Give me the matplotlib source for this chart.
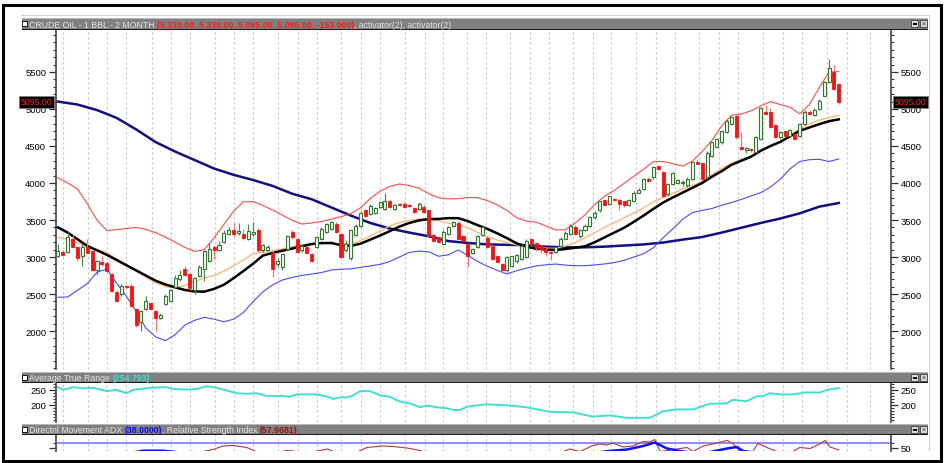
import matplotlib
matplotlib.use('Agg')
import matplotlib.pyplot as plt
from matplotlib.patches import Rectangle
from matplotlib.ticker import MultipleLocator, FixedLocator
import numpy as np

# ---------------- data ----------------
opens = [3020, 3070, 3070, 3250, 3130, 3010, 3130, 3080, 2830, 2930,
         2920, 2770, 2530, 2500, 2610, 2610, 2300, 2120, 2300, 2380,
         2270, 2180, 2370, 2410, 2590, 2700, 2840, 2770, 2550, 2740,
         2840, 2950, 3140, 3100, 3200, 3310, 3370, 3330, 3310, 3250,
         3310, 3370, 3090, 3100, 3060, 2900, 2870, 3110, 3340, 3240,
         3090, 3130, 3040, 3140, 3240, 3340, 3380, 3450, 3310, 3100,
         2980, 3300, 3420, 3630, 3580, 3600, 3680, 3650, 3760, 3650,
         3710, 3720, 3700, 3660, 3650, 3680, 3630, 3300, 3270, 3180,
         3310, 3420, 3460, 3290, 3180, 3060, 3140, 3300, 3260, 3150,
         3020, 2910, 2820, 2880, 2940, 2970, 3000, 3240, 3190, 3150,
         3110, 3070, 3070, 3150, 3250, 3310, 3410, 3280, 3360, 3420,
         3540, 3630, 3770, 3720, 3790, 3770, 3750, 3700, 3760, 3870,
         3920, 4060, 4080, 4230, 4150, 3850, 3990, 4000, 4000, 3970,
         4060, 4290, 4270, 4080, 4370, 4480, 4550, 4690, 4800, 4910,
         4490, 4440, 4460, 4420, 4590, 4960, 4960, 4780, 4620, 4700,
         4640, 4660, 4640, 4800, 4960, 4920, 5000, 5180, 5360, 5500,
         5333]
highs = [3170, 3090, 3340, 3300, 3140, 3180, 3250, 3090, 2960, 3010,
         2950, 2780, 2560, 2630, 2620, 2650, 2310, 2280, 2470, 2390,
         2280, 2250, 2500, 2570, 2760, 2820, 2880, 2790, 2730, 2890,
         3100, 3190, 3160, 3220, 3360, 3400, 3460, 3460, 3380, 3440,
         3470, 3390, 3180, 3160, 3080, 2980, 3060, 3300, 3360, 3250,
         3170, 3150, 3060, 3290, 3400, 3460, 3490, 3470, 3320, 3230,
         3370, 3440, 3620, 3650, 3710, 3680, 3760, 3860, 3770, 3720,
         3730, 3740, 3720, 3680, 3740, 3700, 3640, 3310, 3280, 3360,
         3420, 3490, 3480, 3300, 3190, 3120, 3300, 3420, 3280, 3170,
         3030, 2920, 3010, 3020, 3040, 3170, 3240, 3260, 3200, 3170,
         3130, 3090, 3150, 3270, 3350, 3440, 3430, 3380, 3440, 3550,
         3620, 3760, 3790, 3830, 3800, 3790, 3760, 3780, 3890, 3930,
         4070, 4080, 4230, 4240, 4160, 4000, 4150, 4060, 4040, 4080,
         4290, 4320, 4290, 4430, 4560, 4610, 4720, 4860, 4900, 4920,
         4690, 4490, 4470, 4630, 5020, 5050, 5010, 4800, 4700, 4710,
         4730, 4680, 4810, 4980, 4980, 5010, 5130, 5380, 5680, 5600,
         5339]
lows = [3000, 3020, 3050, 3120, 2950, 2880, 3050, 2810, 2760, 2880,
        2800, 2530, 2390, 2480, 2570, 2330, 2060, 2000, 2290, 2290,
        2000, 2160, 2350, 2400, 2580, 2680, 2740, 2560, 2500, 2730,
        2680, 2930, 2970, 3080, 3190, 3300, 3290, 3300, 3230, 3230,
        3290, 3070, 3070, 3080, 2730, 2860, 2830, 3090, 3250, 3060,
        3070, 3040, 2930, 3120, 3230, 3320, 3370, 3320, 2980, 3070,
        2960, 3280, 3400, 3540, 3570, 3580, 3660, 3630, 3660, 3630,
        3690, 3670, 3680, 3600, 3640, 3600, 3280, 3210, 3190, 3160,
        3300, 3410, 3240, 3210, 2870, 3040, 3120, 3280, 3120, 2960,
        2920, 2790, 2800, 2870, 2920, 2960, 2980, 3160, 3080, 3060,
        3020, 2960, 3050, 3140, 3240, 3300, 3300, 3260, 3350, 3410,
        3520, 3610, 3690, 3700, 3760, 3640, 3680, 3690, 3750, 3860,
        3900, 4020, 4060, 4180, 3810, 3830, 3970, 3980, 3960, 3950,
        4040, 4250, 4040, 4060, 4350, 4470, 4530, 4670, 4780, 4600,
        4450, 4400, 4420, 4400, 4580, 4920, 4740, 4610, 4600, 4630,
        4620, 4580, 4620, 4790, 4920, 4900, 4990, 5170, 5350, 5260,
        5065]
closes = [3085, 3030, 3270, 3130, 2980, 3140, 3060, 2820, 2940, 2900,
          2810, 2540, 2410, 2610, 2590, 2340, 2080, 2270, 2410, 2300,
          2180, 2210, 2480, 2550, 2720, 2760, 2760, 2580, 2720, 2860,
          3080, 3110, 3090, 3160, 3330, 3360, 3310, 3350, 3260, 3350,
          3340, 3090, 3160, 3140, 2840, 2950, 3040, 3290, 3270, 3070,
          3150, 3060, 2950, 3270, 3380, 3450, 3470, 3340, 3000, 3180,
          3360, 3420, 3590, 3560, 3690, 3660, 3740, 3760, 3680, 3700,
          3700, 3680, 3690, 3610, 3720, 3610, 3290, 3220, 3200, 3340,
          3410, 3470, 3250, 3220, 3020, 3110, 3280, 3400, 3140, 2970,
          2930, 2820, 3000, 3010, 3030, 3150, 3220, 3180, 3120, 3110,
          3070, 3055, 3130, 3250, 3330, 3420, 3310, 3360, 3420, 3540,
          3600, 3750, 3700, 3820, 3770, 3710, 3700, 3770, 3870, 3910,
          4050, 4030, 4210, 4190, 3830, 3990, 4140, 4040, 4020, 4060,
          4280, 4260, 4060, 4410, 4550, 4590, 4700, 4840, 4890, 4620,
          4460, 4470, 4440, 4620, 5010, 4930, 4760, 4620, 4690, 4640,
          4720, 4600, 4800, 4960, 4930, 4980, 5110, 5360, 5560, 5270,
          5095]

# overlay lines sampled every 2 bars (bar index 0,2,...,160)
band_idx = list(range(0, 161, 2))
ma_black = [3400, 3330, 3240, 3150, 3090, 3030, 2960, 2890, 2820, 2750,
            2680, 2630, 2590, 2555, 2535, 2532, 2570, 2625, 2715, 2810,
            2910, 3020, 3055, 3085, 3115, 3145, 3175, 3188, 3190, 3160,
            3150, 3180, 3235, 3290, 3350, 3412, 3460, 3495, 3512, 3515,
            3525, 3525, 3485, 3430, 3380, 3320, 3255, 3185, 3140, 3112,
            3100, 3095, 3108, 3125, 3145, 3200, 3265, 3330, 3395, 3475,
            3560, 3650, 3735, 3805, 3870, 3935, 4000, 4085, 4160, 4245,
            4300, 4355, 4435, 4500, 4555, 4630, 4705, 4750, 4795, 4835,
            4860]
ma_orange = [3265, 3240, 3190, 3140, 3100, 3060, 2975, 2895, 2810, 2730,
             2655, 2600, 2585, 2615, 2670, 2720, 2750, 2810, 2880, 2960,
             3045, 3065, 3085, 3110, 3140, 3165, 3185, 3190, 3180, 3175,
             3178, 3220, 3285, 3350, 3420, 3466, 3495, 3512, 3510, 3490,
             3455, 3435, 3395, 3330, 3275, 3230, 3195, 3165, 3145, 3125,
             3118, 3118, 3150, 3195, 3260, 3330, 3400, 3465, 3530, 3595,
             3665, 3745, 3805, 3860, 3920, 3965, 4020, 4110, 4195, 4265,
             4320, 4360, 4440, 4500, 4545, 4640, 4730, 4800, 4850, 4885,
             4910]
bb_upper = [4070, 4000, 3920, 3720, 3500, 3356, 3370, 3385, 3400, 3372,
            3330, 3270, 3200, 3130, 3075, 3100, 3260, 3440, 3620, 3745,
            3750, 3695, 3635, 3565, 3495, 3445, 3460, 3480, 3510, 3545,
            3585, 3665, 3790, 3890, 3955, 3987, 3965, 3930, 3855, 3800,
            3785, 3788, 3805, 3800, 3762, 3705, 3630, 3530, 3485, 3470,
            3420, 3365, 3370, 3460, 3570, 3710, 3820, 3900, 3995, 4090,
            4185, 4290, 4290, 4260, 4228, 4295, 4425, 4575, 4770, 4915,
            4930, 4975, 5040, 5100, 5060, 5023, 4935, 5060, 5290, 5500,
            5505]
bb_lower = [2456, 2460, 2550, 2640, 2795, 2838, 2650, 2470, 2270, 2040,
            1920, 1870, 1950, 2080, 2145, 2185, 2160, 2125, 2160, 2250,
            2400, 2530, 2625, 2690, 2725, 2752, 2770, 2790, 2825, 2834,
            2840, 2860, 2880, 2900, 2940, 3000, 3062, 3080, 3070, 3010,
            3030, 3095, 3020, 2940, 2875, 2820, 2772, 2815, 2850, 2880,
            2895, 2905, 2890, 2883, 2883, 2893, 2906, 2925, 2955, 3000,
            3045, 3125, 3260, 3380, 3510, 3600, 3630, 3655, 3700, 3735,
            3778, 3825, 3870, 3945, 4050, 4190, 4290, 4315, 4320, 4290,
            4325]
long_idx = list(range(0, 161, 4))
ma_long = [5100, 5060, 4985, 4880, 4725, 4553, 4425, 4310, 4195, 4110,
           4040, 3960, 3855, 3780, 3670, 3560, 3460, 3385, 3330, 3280,
           3215, 3190, 3170, 3165, 3160, 3140, 3131, 3131, 3140, 3155,
           3170, 3195, 3235, 3270, 3330, 3395, 3460, 3520, 3590, 3680,
           3730]

atr_idx = [0, 1.1, 3.1, 5.2, 7.2, 10.0, 12.0, 14.1, 15.4, 18.9, 22.3, 23.6,
           26.4, 28.4, 30.5, 32.5, 34.6, 36.6, 38.7, 40.7, 42.8, 46.2, 47.5,
           48.9, 53.0, 55.1, 56.4, 57.8, 59.2, 60.5, 61.9, 63.9, 66.0, 68.0,
           70.1, 72.1, 74.2, 75.6, 77.6, 79.7, 81.0, 82.4, 83.8, 87.8, 92.6,
           96.0, 100.8, 105.5, 109.6, 113.1, 116.5, 121.3, 124.0, 126.8,
           130.1, 133.6, 137.0, 138.3, 141.1, 143.2, 144.5, 145.9, 147.9,
           150.6, 153.4, 156.1, 157.5, 160]
atr_val = [258, 249, 258, 254, 256, 245, 249, 238, 249, 256, 258, 252,
           250, 252, 261, 256, 247, 238, 236, 238, 229, 229, 226,
           234, 234, 227, 219, 224, 224, 231, 245, 245, 231, 226,
           210, 204, 191, 197, 191, 188, 182, 182, 193, 201, 197,
           191, 176, 174, 160, 164, 156, 156, 178, 184,
           184, 203, 204, 216, 211, 228, 228, 238, 234,
           234, 241, 240, 249, 255]

rsi_idx = [0, 20, 27, 29.7, 31.8, 33.8, 35.9, 38.7, 40.6, 43.4, 46.9, 48.2,
           50.6, 53.1, 55.3, 56.4, 58.8, 61.5, 63.3, 66.6, 68.6, 71.5, 74.2,
           74.8, 78.3, 90.6, 99.8, 103.5, 104.9, 107, 109.6, 111, 112.5,
           113.7, 115.8, 117.8, 119.9, 121.3, 122.3, 123.4, 126.8, 128.9,
           130.1, 132.2, 134.2, 137.1, 138.3, 139.8, 142.4, 143.4, 145.3,
           147.3, 150.6, 152, 154.1, 156.1, 157.2, 158.2, 160]
rsi_val = [38, 30, 38, 43, 47, 54, 55, 51, 43, 38, 45, 44,
           38, 44, 48, 43, 38, 43, 51, 54, 53, 50, 45,
           43, 36, 30, 38, 43, 48, 43, 55, 58, 56,
           60, 52, 54, 63, 62, 67, 43, 48, 51,
           43, 54, 58, 65, 59, 43, 43, 59, 51,
           43, 43, 51, 49, 58, 65, 52, 46]
adx_idx = [0, 8, 16, 17.5, 21.5, 24, 40, 60, 80, 100, 108, 113, 116.6,
           119.9, 122.3, 124.8, 127.5, 130, 132.6, 134.6, 137.1, 139.1,
           140.4, 145, 150, 160]
adx_val = [25, 35, 42, 44.6, 44.6, 42, 30, 25, 22, 28, 38, 44, 47,
           54, 61, 49, 44, 40, 40, 44, 49, 52, 44, 38, 36, 38]
adx_ref = 60

grid_idx = [1.1, 6.2, 10.1, 13.9, 19.2, 23.1, 27.0, 32.2, 36.1, 40.0, 45.1,
            49.2, 53.0, 58.1, 62.2, 66.0, 71.1, 75.2, 79.0, 83.8, 87.8, 92.6,
            96.7, 100.7, 105.6, 109.7, 113.4, 118.5, 122.6, 126.4, 131.4,
            135.5, 139.3, 144.5, 148.6, 152.4, 157.5, 161.6, 166.4]
last_price = 5095.00

# ---------------- layout ----------------
W, H = 944, 464
plt.rcParams['font.family'] = ['Liberation Sans', 'DejaVu Sans']
fig = plt.figure(figsize=(W / 100, H / 100), dpi=100)
fig.patch.set_facecolor('white')


def rect(x0, y0, x1, y1):
    return [x0 / W, 1 - y1 / H, (x1 - x0) / W, (y1 - y0) / H]


XL = (-0.4, 170.7)
SPINE = '#505050'
GRIDC = '#c4c4c4'


def style_axes(a):
    a.set_xlim(*XL)
    a.set_facecolor('white')
    for s in ('top', 'bottom'):
        a.spines[s].set_visible(False)
    for s in ('left', 'right'):
        a.spines[s].set_color(SPINE)
        a.spines[s].set_linewidth(1.3)
    a.set_xticks([])
    a.tick_params(axis='y', which='both', left=True, right=True,
                  labelleft=True, labelright=True, direction='out',
                  colors='#303030', labelsize=6.8, labelcolor='black', pad=2)
    a.tick_params(axis='y', which='major', length=5, width=0.9)
    a.tick_params(axis='y', which='minor', length=2.5, width=0.8)
    for g in grid_idx:
        a.axvline(g, color=GRIDC, lw=0.8, ls=(0, (2, 2.5)), zorder=0)


# main price panel
ax = fig.add_axes(rect(56, 31, 891, 370))
style_axes(ax)
ax.set_ylim(1487, 6067)
ax.yaxis.set_major_locator(FixedLocator([2000, 2500, 3000, 3500, 4000, 4500, 5000, 5500]))
ax.yaxis.set_minor_locator(MultipleLocator(100))

idx = np.arange(len(closes))
o = np.array(opens, float)
c = np.array(closes, float)
hi = np.array(highs, float)
lo = np.array(lows, float)
upm = c >= o
GREEN_E = '#2f7a2f'
GREEN_W = '#4a8a4a'
RED_F = '#ff1010'
RED_W = '#ff7070'

ax.vlines(idx[upm], lo[upm], hi[upm], color=GREEN_W, lw=0.9, zorder=4)
ax.vlines(idx[~upm], lo[~upm], hi[~upm], color=RED_W, lw=0.9, zorder=4)
bottoms = np.minimum(o, c)
heights = np.maximum(np.abs(c - o), 10)
ax.bar(idx[upm], heights[upm], bottom=bottoms[upm], width=0.62,
       facecolor='#f4fbf4', edgecolor=GREEN_E, linewidth=0.8, zorder=5)
ax.bar(idx[~upm], heights[~upm], bottom=bottoms[~upm], width=0.62,
       facecolor=RED_F, edgecolor=RED_F, linewidth=0.6, zorder=5)

ax.plot(long_idx, ma_long, color='#101080', lw=1.8, zorder=3)
ax.plot(band_idx, bb_upper, color='#ff4a4a', lw=0.8, zorder=3)
ax.plot(band_idx, bb_lower, color='#4a4aff', lw=0.8, zorder=3)
ax.plot(band_idx, ma_orange, color='#ffb878', lw=1.0, zorder=3)
ax.plot(band_idx, ma_black, color='#000000', lw=1.8, zorder=3)

lbl = '%.2f' % last_price
for xa, ha in ((-0.0045, 'right'), (1.0045, 'left')):
    ax.text(xa, last_price, lbl, transform=ax.get_yaxis_transform(), ha=ha,
            va='center', fontsize=6.3, color='#ff2020', zorder=10,
            bbox=dict(boxstyle='square,pad=0.15', fc='black', ec='#808080', lw=0.6),
            clip_on=False)

# ATR panel
ax2 = fig.add_axes(rect(56, 384, 891, 423))
style_axes(ax2)
ax2.set_ylim(142, 272)
ax2.yaxis.set_major_locator(FixedLocator([200, 250]))
ax2.yaxis.set_minor_locator(MultipleLocator(10))
ax2.plot(atr_idx, atr_val, color='#40e0d0', lw=1.4, zorder=3)

# ADX / RSI panel
ax3 = fig.add_axes(rect(56, 436, 891, 452))
style_axes(ax3)
ax3.set_ylim(44, 76)
ax3.yaxis.set_major_locator(FixedLocator([50]))
ax3.yaxis.set_minor_locator(FixedLocator([60]))
ax3.tick_params(axis='y', which='major', labelleft=False)
ax3.axhline(adx_ref, color='#8c8cff', lw=1.4, zorder=2)
ax3.plot(rsi_idx, rsi_val, color='#b03a3a', lw=0.8, zorder=3)
ax3.plot(adx_idx, adx_val, color='#1010ff', lw=1.8, zorder=4)

# ---------------- title bars ----------------
renderer = fig.canvas.get_renderer()
LIGHT = '#e4e4e4'


def bar(y0, y1, parts):
    fig.add_artist(Rectangle((22 / W, 1 - y1 / H), (928 - 22) / W, (y1 - y0) / H,
                             transform=fig.transFigure, fc='#808080', ec='none', zorder=20))
    fig.add_artist(Rectangle((22 / W, 1 - y1 / H), (928 - 22) / W, 1.2 / H,
                             transform=fig.transFigure, fc='#1a1a1a', ec='none', zorder=21))
    fig.add_artist(Rectangle((22 / W, 1 - (y0 + 1) / H), (928 - 22) / W, 1 / H,
                             transform=fig.transFigure, fc='#b8b8b8', ec='none', zorder=21))
    fig.add_artist(Rectangle((22 / W, 1 - (y0 + 8) / H), 5 / W, 5 / H,
                             transform=fig.transFigure, fc='white', ec='black', lw=0.6, zorder=22))
    for xx in (911, 920):
        fig.add_artist(Rectangle((xx / W, 1 - (y0 + 9) / H), 7 / W, 7 / H,
                                 transform=fig.transFigure, fc='#d8d8d8', ec='#404040',
                                 lw=0.6, zorder=22))
    fig.add_artist(Rectangle((912.5 / W, 1 - (y0 + 6.5) / H), 4 / W, 2 / H,
                             transform=fig.transFigure, fc='black', ec='none', zorder=23))
    fig.text(923.5 / W, 1 - (y0 + 5.6) / H, '×', fontsize=5, color='#303030',
             ha='center', va='center', zorder=23)
    x = 29.0
    yc = 1 - ((y0 + y1) / 2 + 0.3) / H
    for s, col, bold in parts:
        t = fig.text(x / W, yc, s, color=col, fontsize=6.3, va='center', ha='left',
                     fontweight='bold' if bold else 'normal', zorder=23)
        x += t.get_window_extent(renderer).width


bar(19, 31, [('CRUDE OIL - 1 BBL - 2 MONTH ', LIGHT, False),
             ('(5,333.00, 5,339.00, 5,065.00, 5,095.00, -153.000)', '#ff1a1a', True),
             (', activator(2), activator(2)', LIGHT, False)])
bar(373, 384, [('Average True Range ', LIGHT, False),
               ('(254.793)', '#40e0d0', True)])
bar(425, 436, [('Directnl Movement ADX ', LIGHT, False),
               ('(38.0000)', '#1010ff', True),
               (', Relative Strength Index ', LIGHT, False),
               ('(57.9681)', '#a01010', True)])

# window edges and outer frame
fig.add_artist(Rectangle((928.5 / W, 1 - 452 / H), 1.2 / W, (452 - 16) / H,
                         transform=fig.transFigure, fc='#d0d0d0', ec='none', zorder=19))
fig.add_artist(Rectangle((21 / W, 1 - 17 / H), (929 - 21) / W, 1 / H,
                         transform=fig.transFigure, fc='#d0d0d0', ec='none', zorder=19))
fig.add_artist(Rectangle((2.5 / W, 1 - 462 / H), (941 - 2.5) / W, (462 - 6) / H,
                         transform=fig.transFigure, fc='none', ec='black', lw=2.2, zorder=30))

fig.savefig('out.png', dpi=100, facecolor='white')
